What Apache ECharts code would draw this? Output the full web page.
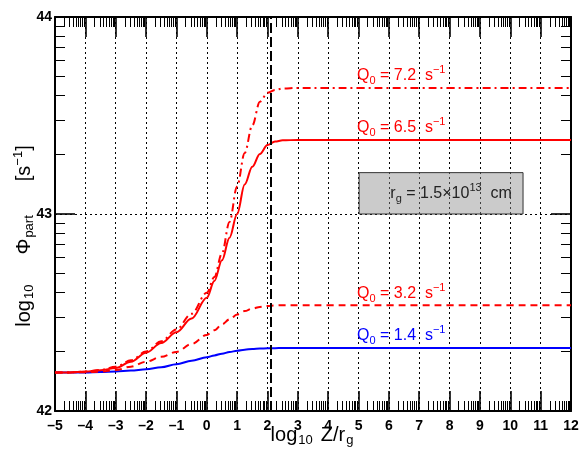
<!DOCTYPE html>
<html>
<head>
<meta charset="utf-8">
<script src="https://cdn.jsdelivr.net/npm/echarts@6/dist/echarts.min.js"></script>
<style>html,body{margin:0;padding:0;background:#fff}#c{width:579px;height:451px}</style>
</head>
<body>
<div id="c"></div>
<script>
// ---- data ----
var xs = [-5, -4.5, -4, -3.5, -3, -2.5, -2, -1.5, -1, -0.5, 0, 0.25, 0.5, 0.75, 1, 1.25, 1.5, 1.75, 2, 2.25, 2.5, 3, 4, 5, 6, 7, 8, 9, 10, 11, 12];
var q72 = [42.195, 42.196, 42.2, 42.209, 42.224, 42.257, 42.302, 42.354, 42.414, 42.494, 42.60, 42.68, 42.80, 42.96, 43.14, 43.31, 43.45, 43.57, 43.615, 43.63, 43.637, 43.64, 43.64, 43.64, 43.64, 43.64, 43.64, 43.64, 43.64, 43.64, 43.64];
var q65 = [42.195, 42.196, 42.2, 42.207, 42.218, 42.25, 42.296, 42.345, 42.40, 42.47, 42.575, 42.66, 42.765, 42.88, 43.0, 43.15, 43.24, 43.305, 43.35, 43.368, 43.374, 43.376, 43.376, 43.376, 43.376, 43.376, 43.376, 43.376, 43.376, 43.376, 43.376];
var q32 = [42.195, 42.196, 42.197, 42.2, 42.208, 42.225, 42.25, 42.275, 42.30, 42.34, 42.386, 42.41, 42.44, 42.465, 42.49, 42.507, 42.52, 42.528, 42.533, 42.536, 42.537, 42.537, 42.537, 42.537, 42.537, 42.537, 42.537, 42.537, 42.537, 42.537, 42.537];
var q14 = [42.195, 42.195, 42.196, 42.198, 42.20, 42.205, 42.212, 42.222, 42.237, 42.255, 42.273, 42.282, 42.291, 42.299, 42.306, 42.311, 42.315, 42.317, 42.318, 42.319, 42.32, 42.32, 42.32, 42.32, 42.32, 42.32, 42.32, 42.32, 42.32, 42.32, 42.32];
var qLabels = ['7.2', '6.5', '3.2', '1.4'];
var labelX = 4.95;
var xTicks = [-5, 12, 1];      // min, max, interval
var yTicks = [42, 44, 1];
var rgLineX = 2.12;
var rgBox = [[5.02, 43.0], [10.42, 43.21]];
var rgText = ['1.5', '13'];

// ---- helpers ----
function pairs(x, y) { return x.map(function (v, i) { return [v, y[i]]; }); }
function minorLog(a, b) {
  var out = [];
  for (var n = a; n < b; n++) for (var k = 2; k <= 9; k++) out.push(n + Math.log10(k));
  return out;
}
var minorX = minorLog(xTicks[0], xTicks[1]);
var minorY = minorLog(yTicks[0], yTicks[1]);
var FONT = 'Liberation Sans';

function richSet(color, big, small, lh, key) {
  var k = key || 'color';
  var a = { fontSize: big, fontFamily: FONT, lineHeight: lh, verticalAlign: 'middle' };
  var s = { fontSize: small, fontFamily: FONT, lineHeight: small, verticalAlign: 'bottom' };
  var p = { fontSize: small, fontFamily: FONT, lineHeight: small, verticalAlign: 'top' };
  a[k] = color; s[k] = color; p[k] = color;
  return { a: a, s: s, p: p };
}
function qLabel(val) {
  return '{a|Q}{s|0}{a| = ' + val + '  s}{p|\u22121}';
}
function mkLine(name, ys, color, type, val) {
  return {
    name: name, type: 'line', data: pairs(xs, ys), smooth: 0.35, smoothMonotone: 'x',
    showSymbol: false, symbol: 'none', clip: true,
    lineStyle: { color: color, width: 2, type: type },
    markPoint: {
      symbol: 'circle', symbolSize: 0, silent: true,
      data: [{ coord: [labelX, ys[ys.length - 1]] }],
      label: {
        show: true, position: 'right', distance: 0, offset: [0, -12],
        formatter: qLabel(val), rich: richSet(color, 16, 11, 22)
      }
    }
  };
}

var axisBase = { type: 'value', min: xTicks[0], max: xTicks[1], interval: xTicks[2] };
function xAx(pos, major, labels) {
  return Object.assign({}, axisBase, {
    position: pos,
    axisLine: { show: major, onZero: false, lineStyle: { color: '#000', width: 2 } },
    axisTick: major ? { show: true, inside: true, length: 20, lineStyle: { color: '#000', width: 1.6 } }
                    : { show: true, inside: true, length: 10, customValues: minorX, lineStyle: { color: '#000', width: 1 } },
    axisLabel: labels ? {
      show: true, margin: 8, fontFamily: FONT, fontWeight: 'bold', fontSize: 14, color: '#000',
      formatter: function (v) { return String(v).replace('-', '\u2013'); }
    } : { show: false },
    splitLine: (major && labels) ? { show: true, lineStyle: { color: '#000', width: 1, type: [2, 3] } } : { show: false }
  });
}
function yAx(pos, major, labels) {
  return {
    type: 'value', min: yTicks[0], max: yTicks[1], interval: yTicks[2], position: pos,
    axisLine: { show: major, onZero: false, lineStyle: { color: '#000', width: 2 } },
    axisTick: major ? { show: true, inside: true, length: 20, lineStyle: { color: '#000', width: 1.6 } }
                    : { show: true, inside: true, length: 10, customValues: minorY, lineStyle: { color: '#000', width: 1 } },
    axisLabel: labels ? { show: true, margin: 3, fontFamily: FONT, fontWeight: 'bold', fontSize: 14, color: '#000' } : { show: false },
    splitLine: (major && labels) ? { show: true, lineStyle: { color: '#000', width: 1, type: [2, 3] } } : { show: false }
  };
}

var xRich = richSet('#000', 20, 13, 24, 'fill');
xRich.g = Object.assign({}, xRich.s, { padding: [0, 0, 0, 1] });
xRich.s = Object.assign({}, xRich.s, { padding: [0, 8, 0, 1] });

var chart = echarts.init(document.getElementById('c'), null, { renderer: 'canvas' });
var blue = '#0000ff', red = '#ff0000';
var s72 = mkLine('Q72', q72, red, [8, 4, 2, 4], qLabels[0]);
var s65 = mkLine('Q65', q65, red, 'solid', qLabels[1]);
var s32 = mkLine('Q32', q32, red, [7, 5], qLabels[2]);
var s14 = mkLine('Q14', q14, blue, 'solid', qLabels[3]);

s14.markLine = {
  silent: true, symbol: 'none', label: { show: false },
  lineStyle: { color: '#000', width: 2, type: [10, 4] },
  data: [{ xAxis: rgLineX }]
};
s14.markArea = {
  silent: true,
  itemStyle: { color: 'rgba(140,140,140,0.45)', borderColor: '#333', borderWidth: 1 },
  label: {
    show: true, position: 'inside', offset: [10, 0],
    formatter: '{a|r}{s|g}{a| = ' + rgText[0] + '\u00d710}{p|' + rgText[1] + '}{a|  cm}',
    rich: richSet('#222', 16, 11, 22)
  },
  data: [[{ coord: rgBox[0] }, { coord: rgBox[1] }]]
};

var yRich = richSet('#000', 20, 13, 24, 'fill');
yRich.s1 = Object.assign({}, yRich.s, { padding: [0, 30, 0, 1] });
yRich.s2 = Object.assign({}, yRich.s, { padding: [0, 34, 0, 1] });

chart.setOption({
  animation: false,
  backgroundColor: '#fff',
  grid: { left: 55, right: 8, top: 17, bottom: 40, containLabel: false, outerBoundsMode: 'none' },
  xAxis: [xAx('bottom', true, true), xAx('bottom', false, false), xAx('top', true, false), xAx('top', false, false)],
  yAxis: [yAx('left', true, true), yAx('left', false, false), yAx('right', true, false), yAx('right', false, false)],
  series: [s14, s32, s65, s72],
  graphic: [{
    type: 'text', x: 24, y: 236, rotation: Math.PI / 2,
    style: {
      text: '{a|log}{s1|10}{a|\u03a6}{s2|part}{a|[s}{p|\u22121}{a|]}',
      align: 'center', verticalAlign: 'middle',
      rich: yRich
    }
  }, {
    type: 'text', x: 312, y: 435,
    style: {
      text: '{a|log}{s|10}{a|Z/r}{g|g}',
      align: 'center', verticalAlign: 'middle',
      rich: xRich
    }
  }]
});
</script>
</body>
</html>
